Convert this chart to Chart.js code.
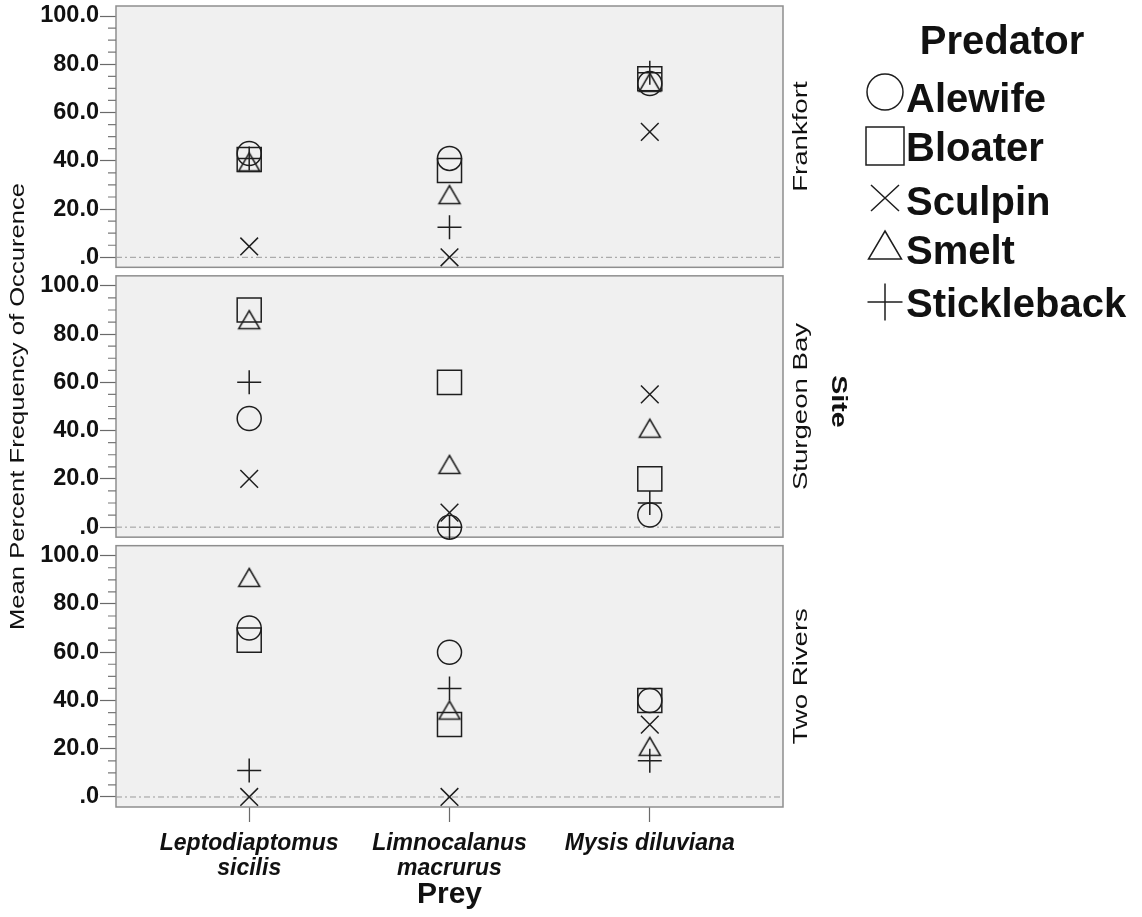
<!DOCTYPE html>
<html>
<head>
<meta charset="utf-8">
<title>Predator diet by site</title>
<script src="https://cdn.jsdelivr.net/npm/chart.js@4.4.1/dist/chart.umd.min.js"></script>
<style>
  html, body { margin: 0; padding: 0; background: #ffffff; }
  #wrap { width: 1142px; height: 917px; position: relative; }
</style>
</head>
<body>
<div id="wrap"><canvas id="chart" width="1142" height="917"></canvas></div>
<script>
// ---- data -------------------------------------------------------------
const preyNames = ['Leptodiaptomus sicilis', 'Limnocalanus macrurus', 'Mysis diluviana'];
const preyTickLabels = [['Leptodiaptomus', 'sicilis'], ['Limnocalanus', 'macrurus'], ['Mysis diluviana']];
const sites = ['Frankfort', 'Sturgeon Bay', 'Two Rivers'];
const predators = ['Alewife', 'Bloater', 'Sculpin', 'Smelt', 'Stickleback'];
const yTicks = [0, 5, 10, 15, 20, 25, 30, 35, 40, 45, 50, 55, 60, 65, 70, 75, 80, 85, 90, 95, 100];
const yLabelledTicks = [0, 20, 40, 60, 80, 100];

// Mean percent frequency of occurrence: one row per site (sites order),
// one column per prey (preyNames order)
const alewife     = [[43, 41, 72],     [45, 0, 5],   [70, 60, 40]];
const bloater     = [[40.5, 36, 74],   [90, 60, 20], [65, 30, 40]];
const sculpin     = [[4.5, 0, 52],     [20, 6, 55],  [0, 0, 30]];
const smelt       = [[39.5, 26, 72.5], [86, 26, 41], [91, 36, 21]];
const stickleback = [[41, 12.5, 76.5], [60, 0, 10],  [11, 45, 15]];

// ---- styling -------------------------------------------------------------
const FONT = "'Liberation Sans', Arial, Helvetica, sans-serif";
const INK = '#111111';
const MARK = '#1e1e1e';
const FRAME_MAX = 104.15;   // top edge of each panel frame
const FRAME_MIN = -4.15;    // bottom edge of each panel frame
const GAP_MIN = -7.68;      // leaves a small gap under the upper panels

Chart.defaults.font.family = FONT;

// Upright triangle centred on its bounding box
function triangleMarker(w, h, lw) {
  const c = document.createElement('canvas');
  c.width = Math.ceil(w + lw * 2 + 2);
  c.height = Math.ceil(h + lw * 2 + 2);
  const g = c.getContext('2d');
  const cx = c.width / 2, cy = c.height / 2;
  g.strokeStyle = MARK;
  g.lineWidth = lw;
  g.lineJoin = 'miter';
  g.beginPath();
  g.moveTo(cx, cy - h / 2);
  g.lineTo(cx + w / 2, cy + h / 2);
  g.lineTo(cx - w / 2, cy + h / 2);
  g.closePath();
  g.stroke();
  return c;
}

const seriesBySpecies = [alewife, bloater, sculpin, smelt, stickleback];
const markerStyles = ['circle', 'rect', 'crossRot', triangleMarker(21, 18, 1.5), 'cross'];
const markerRadius = [12, 17, 12.5, 12, 12];

const datasets = [];
sites.forEach((site, s) => {
  predators.forEach((name, k) => {
    datasets.push({
      label: name,
      site: site,
      yAxisID: 'y' + s,
      data: preyNames.map((_, i) => ({ x: i, y: seriesBySpecies[k][s][i] })),
      showLine: false,
      clip: false,
      pointStyle: markerStyles[k],
      pointRadius: markerRadius[k],
      pointHoverRadius: markerRadius[k],
      pointBorderWidth: 1.5,
      pointBorderColor: MARK,
      pointBackgroundColor: 'rgba(0,0,0,0)'
    });
  });
});

// ---- axes ------------------------------------------------------------------
function siteAxis(s) {
  const last = s === sites.length - 1;
  return {
    type: 'linear',
    position: 'left',
    stack: 'sites',
    stackWeight: last ? 261 : 269.5,
    min: last ? FRAME_MIN : GAP_MIN,
    max: FRAME_MAX,
    afterBuildTicks: sc => { sc.ticks = yTicks.map(v => ({ value: v })); },
    afterFit: sc => { sc.width = 116; sc.paddingTop = 0; sc.paddingBottom = 0; },
    border: { display: false },
    grid: {
      drawOnChartArea: false,
      drawTicks: true,
      tickLength: 16,
      tickWidth: 1.2,
      tickColor: c => (c.tick && yLabelledTicks.includes(c.tick.value)) ? '#6a6a6a' : 'rgba(0,0,0,0)'
    },
    ticks: {
      autoSkip: false,
      padding: 1,
      color: INK,
      font: { family: FONT, size: 23.5, weight: 'bold' },
      callback: v => yLabelledTicks.includes(v) ? (v === 0 ? '.0' : v.toFixed(1)) : ''
    }
  };
}

const scales = {
  x: {
    type: 'linear',
    min: -0.665,
    max: 2.665,
    afterBuildTicks: sc => { sc.ticks = preyNames.map((_, i) => ({ value: i })); },
    afterFit: sc => { sc.height = 110; sc.paddingLeft = 0; sc.paddingRight = 0; },
    border: { display: false },
    grid: { drawOnChartArea: false, drawTicks: true, tickLength: 15, tickWidth: 1.2, tickColor: '#6a6a6a' },
    ticks: {
      autoSkip: false,
      maxRotation: 0,
      padding: 10,
      color: INK,
      font: { family: FONT, size: 23, weight: 'bold', style: 'italic', lineHeight: 1.05 },
      callback: v => preyTickLabels[v]
    },
    title: {
      display: true,
      text: 'Prey',
      color: INK,
      font: { family: FONT, size: 30, weight: 'bold', lineHeight: 1.2 },
      padding: { top: 0, bottom: 4 }
    }
  }
};
// left-hand stacked axes are laid out from the last one upward,
// so register them bottom panel first to keep Frankfort on top
for (let s = sites.length - 1; s >= 0; s--) { scales['y' + s] = siteAxis(s); }

// ---- panel frames, zero reference lines and minor ticks ---------------------
const panelFrames = {
  id: 'panelFrames',
  beforeDatasetsDraw(chart) {
    const { ctx, chartArea } = chart;
    const left = chartArea.left, right = chartArea.right;
    sites.forEach((_, s) => {
      const sc = chart.scales['y' + s];
      const top = sc.getPixelForValue(FRAME_MAX);
      const bottom = sc.getPixelForValue(FRAME_MIN);
      ctx.save();
      ctx.fillStyle = '#f0f0f0';
      ctx.fillRect(left, top, right - left, bottom - top);
      ctx.strokeStyle = '#8e8e8e';
      ctx.lineWidth = 1.5;
      ctx.strokeRect(left, top, right - left, bottom - top);

      const y0 = sc.getPixelForValue(0);
      ctx.setLineDash([6, 3, 2, 3]);
      ctx.strokeStyle = '#9a9a9a';
      ctx.lineWidth = 1;
      ctx.beginPath();
      ctx.moveTo(left, y0);
      ctx.lineTo(right, y0);
      ctx.stroke();

      ctx.setLineDash([]);
      ctx.strokeStyle = '#7a7a7a';
      ctx.lineWidth = 1.2;
      ctx.beginPath();
      yTicks.filter(v => !yLabelledTicks.includes(v)).forEach(v => {
        const y = sc.getPixelForValue(v);
        ctx.moveTo(left - 8, y);
        ctx.lineTo(left, y);
      });
      ctx.stroke();
      ctx.restore();
    });
  }
};

// ---- text outside the plot: axis title, site strips, legend -------------------
function drawStretchedText(ctx, text, x, y, angle, font, stretch, align) {
  ctx.save();
  ctx.translate(x, y);
  ctx.rotate(angle);
  ctx.scale(stretch, 1);
  ctx.font = font;
  ctx.fillStyle = INK;
  ctx.textAlign = align || 'center';
  ctx.textBaseline = 'middle';
  ctx.fillText(text, 0, 0);
  ctx.restore();
}

function strokeLegendMarker(ctx, k, cx, cy) {
  ctx.save();
  ctx.strokeStyle = MARK;
  ctx.lineWidth = 1.5;
  ctx.beginPath();
  if (k === 0) {
    ctx.arc(cx, cy, 18, 0, Math.PI * 2);
  } else if (k === 1) {
    ctx.rect(cx - 19, cy - 19, 38, 38);
  } else if (k === 2) {
    ctx.moveTo(cx - 14, cy - 13); ctx.lineTo(cx + 14, cy + 13);
    ctx.moveTo(cx + 14, cy - 13); ctx.lineTo(cx - 14, cy + 13);
  } else if (k === 3) {
    ctx.moveTo(cx, cy - 14); ctx.lineTo(cx + 16.5, cy + 14); ctx.lineTo(cx - 16.5, cy + 14); ctx.closePath();
  } else {
    ctx.moveTo(cx - 17.5, cy); ctx.lineTo(cx + 17.5, cy);
    ctx.moveTo(cx, cy - 18.5); ctx.lineTo(cx, cy + 18.5);
  }
  ctx.stroke();
  ctx.restore();
}

const outerText = {
  id: 'outerText',
  afterDraw(chart) {
    const { ctx } = chart;
    const topPanel = chart.scales.y0, bottomPanel = chart.scales['y' + (sites.length - 1)];
    const plotTop = topPanel.getPixelForValue(FRAME_MAX);
    const plotBottom = bottomPanel.getPixelForValue(FRAME_MIN);

    // y axis title
    drawStretchedText(ctx, 'Mean Percent Frequency of Occurence', 18, (plotTop + plotBottom) / 2,
      -Math.PI / 2, `21px ${FONT}`, 1.22);

    // site strip labels
    sites.forEach((site, s) => {
      const sc = chart.scales['y' + s];
      const mid = (sc.getPixelForValue(FRAME_MAX) + sc.getPixelForValue(FRAME_MIN)) / 2;
      drawStretchedText(ctx, site, 801, mid, -Math.PI / 2, `20px ${FONT}`, 1.38);
    });
    drawStretchedText(ctx, 'Site', 838, (plotTop + plotBottom) / 2 - 5, Math.PI / 2, `bold 22px ${FONT}`, 1.3);

    // legend
    ctx.save();
    ctx.fillStyle = INK;
    ctx.font = `bold 40px ${FONT}`;
    ctx.textAlign = 'center';
    ctx.textBaseline = 'alphabetic';
    ctx.fillText('Predator', 1002, 54);
    ctx.textAlign = 'left';
    const capCentres = [97, 146, 200, 249, 302];
    const markerCentres = [92, 146, 198, 245, 302];
    predators.forEach((name, k) => {
      strokeLegendMarker(ctx, k, 885, markerCentres[k]);
      ctx.fillText(name, 906, capCentres[k] + 14.5);
    });
    ctx.restore();
  }
};

new Chart(document.getElementById('chart'), {
  type: 'scatter',
  data: { datasets },
  options: {
    responsive: false,
    devicePixelRatio: 1,
    animation: false,
    events: [],
    layout: { autoPadding: false, padding: { top: 6, right: 359, left: 0, bottom: 0 } },
    scales,
    plugins: { legend: { display: false }, tooltip: { enabled: false }, title: { display: false } }
  },
  plugins: [panelFrames, outerText]
});
</script>
</body>
</html>
